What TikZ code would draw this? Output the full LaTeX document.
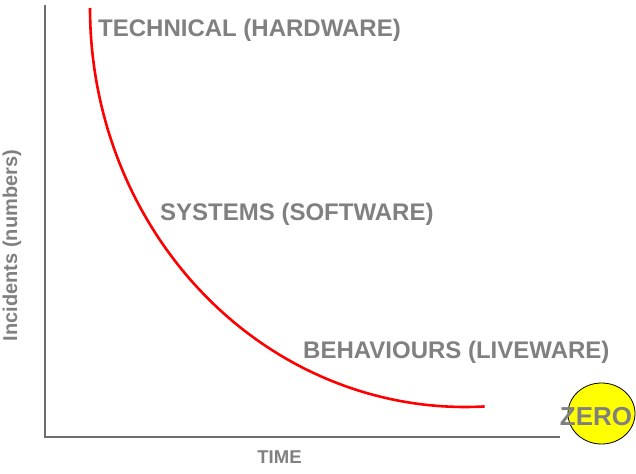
\documentclass[tikz,border=0pt]{standalone}
\usepackage{fontspec}
\setmainfont{Liberation Sans}
\definecolor{labelgray}{HTML}{808080}
\definecolor{axisgray}{HTML}{6E6E6E}
\definecolor{zeroyellow}{HTML}{FFFF00}
\begin{document}
\begin{tikzpicture}[x=1pt,y=-1pt,
  lbl/.style={text=labelgray,inner sep=0pt,font=\fontsize{24}{28}\selectfont\bfseries},
  axislbl/.style={text=labelgray,inner sep=0pt},
  axisline/.style={draw=axisgray,line width=1.6pt},
  curve/.style={draw=red,line width=2.6pt}]
\useasboundingbox (0,0) rectangle (636,473);
\fill[white] (0,0) rectangle (636,473);
% axes
\coordinate (top) at (45,5);
\coordinate (origin) at (45,437);
\coordinate (right) at (560,437);
\draw[axisline] (top) -- (origin) -- (right);
% curve (elliptical arc)
\draw[curve] plot[domain=0:93,samples=120,smooth] ({465-375*cos(\x)},{8+399*sin(\x)});
% labels
\node[lbl,anchor=base west] (tech) at (98,37) {TECHNICAL (HARDWARE)};
\node[lbl,anchor=base west] (sys) at (160,220) {SYSTEMS (SOFTWARE)};
\node[lbl,anchor=base west] (beh) at (303,358) {BEHAVIOURS (LIVEWARE)};
% zero
\draw[black,line width=0.8pt,fill=zeroyellow] (601.5,413.5) ellipse [x radius=33.5,y radius=30.5];
\node[lbl,anchor=base,font=\fontsize{26}{30}\selectfont\bfseries] (zero) at (596,425.5) {ZERO};
% axis labels
\node[axislbl,anchor=base,font=\fontsize{18.5}{22}\selectfont\bfseries] (time) at (279.5,463) {TIME};
\node[axislbl,anchor=base,rotate=90,font=\fontsize{20}{24}\selectfont\bfseries] (inc) at (17,245.5) {Incidents (numbers)};
\end{tikzpicture}
\end{document}
